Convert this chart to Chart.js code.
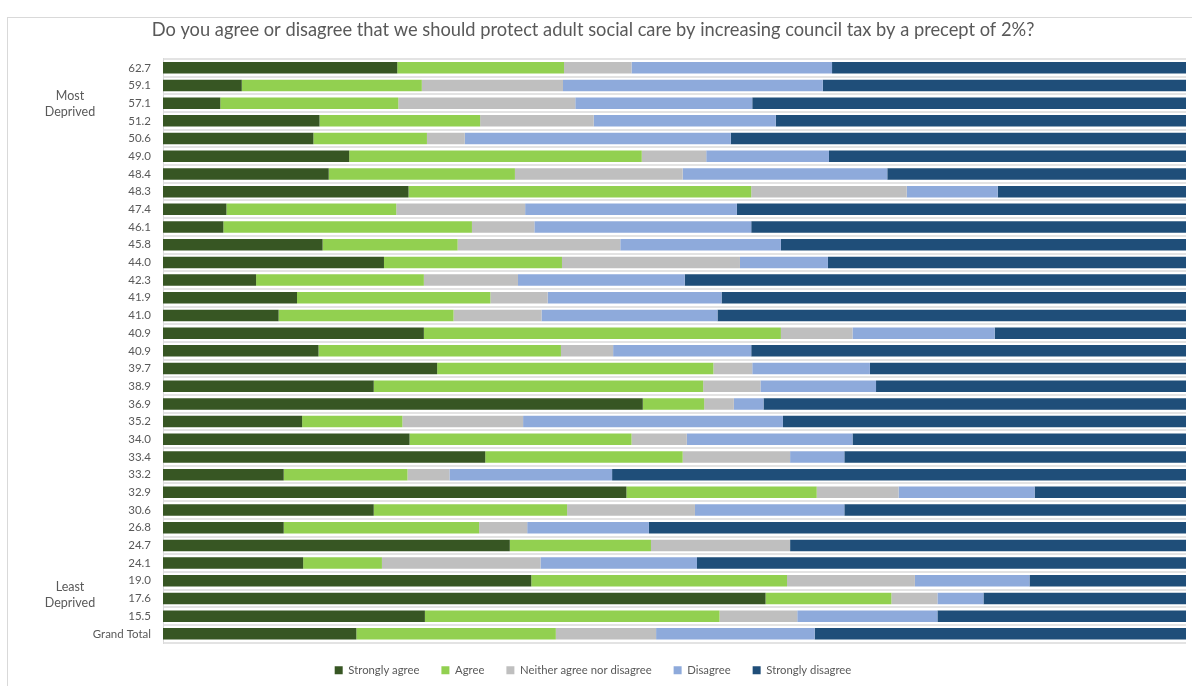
<!DOCTYPE html>
<html>
<head>
<meta charset="utf-8">
<script src="https://cdn.jsdelivr.net/npm/chart.js@4.4.1/dist/chart.umd.min.js"></script>
<style>
  html, body { margin: 0; padding: 0; background: #ffffff; }
  #wrap { position: relative; width: 1192px; height: 686px; overflow: hidden; }
  #frame { position: absolute; left: 7px; top: 17px; width: 1200px; height: 700px;
           border-left: 1px solid #d9d9d9; border-top: 1px solid #d9d9d9; box-sizing: border-box; }
  canvas { position: absolute; left: 0; top: 0; }
</style>
</head>
<body>
<div id="wrap">
  <div id="frame"></div>
  <canvas id="c" width="1192" height="686"></canvas>
</div>
<script>
// Deprivation score categories (top = most deprived)
const categories = ["62.7","59.1","57.1","51.2","50.6","49.0","48.4","48.3","47.4","46.1","45.8","44.0","42.3","41.9","41.0","40.9","40.9","39.7","38.9","36.9","35.2","34.0","33.4","33.2","32.9","30.6","26.8","24.7","24.1","19.0","17.6","15.5","Grand Total"];

// Percentages of responses per category
const stronglyAgree   = [22.9, 7.7, 5.6,15.3,14.7,18.2,16.2,24.0, 6.2, 5.9,15.6,21.6, 9.1,13.1,11.3,25.5,15.2,26.8,20.6,46.9,13.6,24.1,31.5,11.8,45.3,20.6,11.8,33.9,13.7,36.0,58.9,25.6,18.9];
const agree           = [16.3,17.6,17.4,15.7,11.1,28.6,18.2,33.5,16.6,24.3,13.2,17.4,16.4,18.9,17.1,34.9,23.7,27.0,32.2, 6.0, 9.8,21.7,19.3,12.1,18.6,18.9,19.1,13.8, 7.7,25.0,12.3,28.8,19.5];
const neither         = [ 6.6,13.8,17.3,11.1, 3.7, 6.3,16.4,15.2,12.6, 6.1,15.9,17.4, 9.2, 5.6, 8.6, 7.0, 5.1, 3.8, 5.6, 2.9,11.8, 5.4,10.5, 4.1, 8.0,12.5, 4.7,13.6,15.5,12.5, 4.5, 7.6, 9.8];
const disagree        = [19.6,25.4,17.3,17.8,26.0,12.0,20.0, 8.9,20.7,21.2,15.7, 8.6,16.3,17.0,17.2,13.9,13.5,11.5,11.3, 2.9,25.4,16.2, 5.3,15.9,13.3,14.6,11.9, 0.0,15.3,11.2, 4.5,13.7,15.5];
const stronglyDisagree= [34.6,35.5,42.4,40.1,44.5,34.9,29.2,18.4,43.9,42.5,39.6,35.0,49.0,45.4,45.8,18.7,42.5,30.9,30.3,41.3,39.4,32.6,33.4,56.1,14.8,33.4,52.5,38.7,47.8,15.3,19.8,24.3,36.3];

const seriesNames = ["Strongly agree","Agree","Neither agree nor disagree","Disagree","Strongly disagree"];
const seriesColors = ["#375623","#92d050","#bfbfbf","#8eaadb","#1f4e79"];
const groupLabels = [{lines:["Most","Deprived"], at:2.05}, {lines:["Least","Deprived"], at:29.8}];

const titleText = "Do you agree or disagree that we should protect adult social care by increasing council tax by a precept of 2%?";
const FONT = "Lato, 'Open Sans', 'Noto Sans', sans-serif";

const seriesData = [stronglyAgree, agree, neither, disagree, stronglyDisagree];

const groupLabelPlugin = {
  id: 'groupLabels',
  afterDraw(chart) {
    const ctx = chart.ctx;
    const y = chart.scales.y;
    ctx.save();
    ctx.font = "12.5px " + FONT;
    ctx.fillStyle = "#595959";
    ctx.textAlign = "center";
    ctx.textBaseline = "middle";
    const step = y.getPixelForValue(1) - y.getPixelForValue(0);
    groupLabels.forEach(g => {
      const base = y.getPixelForValue(0) + step * g.at;
      const lh = 16;
      const n = g.lines.length;
      g.lines.forEach((t, i) => {
        ctx.fillText(t, 70, base + (i - (n - 1) / 2) * lh);
      });
    });
    ctx.restore();
  }
};

new Chart(document.getElementById('c'), {
  type: 'bar',
  data: {
    labels: categories,
    datasets: seriesData.map((d, i) => ({
      label: seriesNames[i],
      data: d,
      backgroundColor: seriesColors[i],
      borderWidth: 0,
      barPercentage: 0.65,
      categoryPercentage: 1.0
    }))
  },
  options: {
    indexAxis: 'y',
    responsive: false,
    animation: false,
    devicePixelRatio: 1,
    layout: { padding: { left: 0, right: 6, top: 0, bottom: 0 } },
    scales: {
      x: { stacked: true, min: 0, max: 100, display: false },
      y: {
        stacked: true,
        afterFit(scale) { scale.width = 163; },
        border: { display: true, color: '#d9d9d9', width: 1 },
        grid: { display: true, offset: true, drawTicks: false, color: '#e3e3e3', lineWidth: 2 },
        ticks: { color: '#595959', font: { family: FONT, size: 11.5 }, padding: 12, autoSkip: false }
      }
    },
    plugins: {
      title: {
        display: true,
        text: titleText,
        color: '#595959',
        font: { family: FONT, size: 18.3, weight: 'normal' },
        padding: { top: 19, bottom: 18 }
      },
      legend: {
        display: true,
        position: 'bottom',
        labels: {
          color: '#595959',
          font: { family: FONT, size: 11.3 },
          boxWidth: 8, boxHeight: 8,
          padding: 22
        }
      },
      tooltip: { enabled: false }
    }
  },
  plugins: [groupLabelPlugin]
});
</script>
</body>
</html>
